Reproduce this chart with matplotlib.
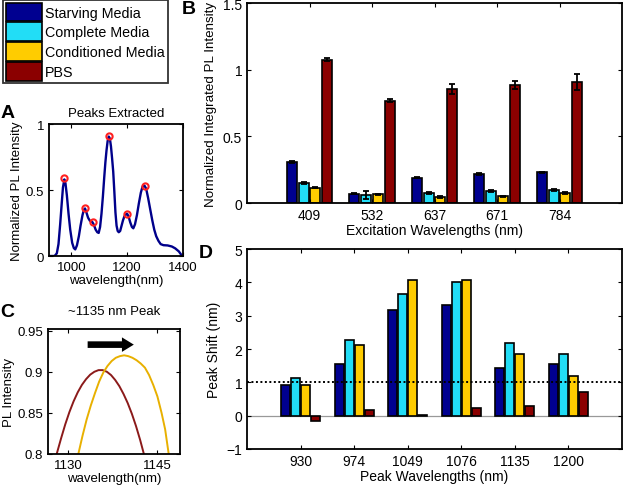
import matplotlib

matplotlib.use("Agg")
import matplotlib.pyplot as plt
import numpy as np
from matplotlib.patches import Patch

plt.rcParams["font.family"] = ["Liberation Sans", "DejaVu Sans"]
plt.rcParams["font.size"] = 9.5
plt.rcParams["xtick.direction"] = "in"
plt.rcParams["ytick.direction"] = "in"
plt.rcParams["xtick.top"] = True
plt.rcParams["ytick.right"] = True
plt.rcParams["xtick.major.size"] = 3
plt.rcParams["ytick.major.size"] = 3
plt.rcParams["axes.linewidth"] = 1.3

# ---- data ----
series_names = ["Starving Media", "Complete Media", "Conditioned Media", "PBS"]
series_colors = ["#000090", "#22DDF6", "#FFCC00", "#8B0000"]

# panel A: spectrum
spec_wl = [925, 940, 948, 954, 960, 966, 970, 975, 979, 984, 990, 996, 1003, 1009,
           1014, 1020, 1027, 1033, 1040, 1045, 1049, 1054, 1060, 1067, 1072, 1076,
           1081, 1087, 1093, 1098, 1103, 1108, 1113, 1118, 1122, 1126, 1130, 1134,
           1138, 1142, 1146, 1150, 1154, 1158, 1162, 1166, 1170, 1175, 1180, 1185,
           1190, 1195, 1200, 1205, 1211, 1217, 1222, 1228, 1235, 1242, 1249, 1255,
           1262, 1268, 1275, 1282, 1290, 1297, 1304, 1312, 1320, 1330, 1345, 1360,
           1372, 1385, 1397]
spec_int = [0.0, 0.0, 0.02, 0.09, 0.24, 0.41, 0.52, 0.58, 0.55, 0.46, 0.32, 0.20, 0.10, 0.06,
            0.05, 0.08, 0.15, 0.23, 0.31, 0.35, 0.36, 0.33, 0.29, 0.265, 0.262, 0.255,
            0.235, 0.20, 0.18, 0.175, 0.22, 0.32, 0.45, 0.60, 0.71, 0.80, 0.87, 0.905,
            0.89, 0.83, 0.74, 0.64, 0.49, 0.33, 0.23, 0.19, 0.18, 0.19, 0.23, 0.27,
            0.30, 0.315, 0.32, 0.30, 0.255, 0.22, 0.21, 0.24, 0.31, 0.40, 0.48, 0.525,
            0.533, 0.51, 0.44, 0.36, 0.27, 0.20, 0.15, 0.115, 0.09, 0.082, 0.08, 0.072,
            0.058, 0.035, 0.0]
peak_wl = [975, 1049, 1076, 1135, 1200, 1265]
peak_int = [0.589, 0.361, 0.255, 0.907, 0.316, 0.533]

# panel B
excitation = ["409", "532", "637", "671", "784"]
b_vals = [
    [0.309, 0.070, 0.190, 0.216, 0.229],
    [0.151, 0.063, 0.075, 0.088, 0.095],
    [0.116, 0.065, 0.045, 0.050, 0.075],
    [1.075, 0.766, 0.854, 0.887, 0.905],
]
b_errs = [
    [0.008, 0.006, 0.006, 0.008, 0.006],
    [0.008, 0.030, 0.008, 0.006, 0.008],
    [0.004, 0.006, 0.004, 0.004, 0.004],
    [0.010, 0.012, 0.040, 0.030, 0.060],
]

# panel C
red_wl = [1128.1, 1128.8, 1129.5, 1130.2, 1130.9, 1131.6, 1132.3, 1133.0, 1133.7, 1134.4,
          1135.1, 1135.8, 1136.5, 1137.2, 1137.9, 1138.6, 1139.3, 1140.0, 1140.7, 1141.4,
          1142.1, 1142.8]
red_int = [0.801, 0.819, 0.836, 0.851, 0.864, 0.875, 0.884, 0.891, 0.8965, 0.900,
           0.902, 0.902, 0.900, 0.896, 0.890, 0.8825, 0.873, 0.862, 0.849, 0.834,
           0.817, 0.798]
yel_wl = [1131.7, 1132.4, 1133.1, 1133.8, 1134.5, 1135.2, 1135.9, 1136.6, 1137.3, 1138.0,
          1138.7, 1139.4, 1140.1, 1140.8, 1141.5, 1142.2, 1142.9, 1143.6, 1144.3, 1145.0,
          1145.7, 1146.3, 1146.9]
yel_int = [0.800, 0.822, 0.842, 0.859, 0.874, 0.888, 0.899, 0.907, 0.913, 0.917,
           0.919, 0.920, 0.919, 0.917, 0.914, 0.910, 0.905, 0.896, 0.884, 0.870,
           0.850, 0.830, 0.800]

# panel D
peak_labels = ["930", "974", "1049", "1076", "1135", "1200"]
d_vals = [
    [0.93, 1.56, 3.18, 3.31, 1.42, 1.56],
    [1.13, 2.27, 3.66, 4.01, 2.18, 1.84],
    [0.93, 2.12, 4.08, 4.08, 1.84, 1.20],
    [-0.15, 0.16, 0.03, 0.23, 0.30, 0.72],
]

W, H = 625, 489
fig = plt.figure(figsize=(W / 100, H / 100), dpi=100)


def rect(left, top, right, bottom):
    return [left / W, 1 - bottom / H, (right - left) / W, (bottom - top) / H]


pitch = 0.187
width = 0.16

# ---- A ----
axA = fig.add_axes(rect(49, 125, 183, 257))
axA.plot(spec_wl, spec_int, color="#00008B", lw=1.7)
axA.plot(peak_wl, peak_int, "o", mfc="none", mec="#FF2020", mew=1.5, ms=4.5)
axA.set_xlim(920, 1400)
axA.set_ylim(0, 1)
axA.set_xticks([1000, 1200, 1400])
axA.set_yticks([0, 0.5, 1])
axA.set_yticklabels(["0", "0.5", "1"])
axA.set_title("Peaks Extracted", fontsize=9.5, pad=6)
axA.set_xlabel("wavelength(nm)", labelpad=1)
axA.set_ylabel("Normalized PL Intensity", labelpad=2)

# ---- B ----
axB = fig.add_axes(rect(247, 4, 622, 204))
xb = np.arange(1, len(excitation) + 1)
for i in range(4):
    axB.bar(xb + (i - 1.5) * pitch, b_vals[i], width, yerr=b_errs[i],
            color=series_colors[i], edgecolor="black", linewidth=1.2,
            error_kw=dict(ecolor="black", elinewidth=1.3, capsize=2.5, capthick=1.3))
axB.set_xlim(0, 6)
axB.set_ylim(0, 1.5)
axB.set_xticks(xb)
axB.set_xticklabels(excitation)
axB.set_yticks([0, 0.5, 1, 1.5])
axB.set_yticklabels(["0", "0.5", "1", "1.5"])
axB.tick_params(labelsize=10)
axB.set_xlabel("Excitation Wavelengths (nm)", fontsize=10, labelpad=1)
axB.set_ylabel("Normalized Integrated PL Intensity", fontsize=9.6, labelpad=4)

# ---- C ----
axC = fig.add_axes(rect(48, 330, 180, 455))
axC.plot(red_wl, red_int, color="#8B1A1A", lw=1.4)
axC.plot(yel_wl, yel_int, color="#E8B000", lw=1.4)
axC.annotate("", xy=(1141.5, 0.933), xytext=(1132.8, 0.933),
             arrowprops=dict(arrowstyle="simple,head_width=1.1,head_length=0.9,tail_width=0.5",
                             color="black", lw=0))
axC.set_xlim(1126.6, 1148.8)
axC.set_ylim(0.8, 0.952)
axC.set_xticks([1130, 1145])
axC.set_yticks([0.8, 0.85, 0.9, 0.95])
axC.set_yticklabels(["0.8", "0.85", "0.9", "0.95"])
axC.set_title("~1135 nm Peak", fontsize=9.5, pad=11)
axC.set_xlabel("wavelength(nm)", labelpad=1)
axC.set_ylabel("PL Intensity", labelpad=2)

# ---- D ----
axD = fig.add_axes(rect(247, 250, 622, 450))
xd = np.arange(1, len(peak_labels) + 1)
axD.axhline(0, color="#999999", lw=0.9, zorder=0)
axD.axhline(1, color="black", lw=1.4, ls=(0, (1, 1.3)), zorder=3)
for i in range(4):
    axD.bar(xd + (i - 1.5) * pitch, d_vals[i], width + 0.01,
            color=series_colors[i], edgecolor="black", linewidth=1.2, zorder=2)
axD.set_xlim(0, 7)
axD.set_ylim(-1, 5)
axD.set_xticks(xd)
axD.set_xticklabels(peak_labels)
axD.set_yticks(range(-1, 6))
axD.tick_params(labelsize=10)
axD.set_xlabel("Peak Wavelengths (nm)", fontsize=10, labelpad=1)
axD.set_ylabel("Peak Shift (nm)", fontsize=10, labelpad=4)

# ---- legend ----
handles = [Patch(facecolor=c, edgecolor="black", linewidth=1.2) for c in series_colors]
leg = fig.legend(handles, series_names, loc="upper left",
                 bbox_to_anchor=(3 / W, 1 - 1 / H), fontsize=10.3,
                 handlelength=2.55, handleheight=1.65, handletextpad=0.22,
                 labelspacing=0.06, borderpad=0.18, borderaxespad=0,
                 frameon=True, fancybox=False)
leg.get_frame().set_edgecolor("black")
leg.get_frame().set_linewidth(1.3)

# ---- panel letters ----
for letter, (px, py) in {"A": (1, 118), "B": (182, 14), "C": (0, 317), "D": (199, 258)}.items():
    fig.text(px / W, 1 - py / H, letter, fontsize=14, fontweight="bold")

fig.savefig("out.png", dpi=100)
